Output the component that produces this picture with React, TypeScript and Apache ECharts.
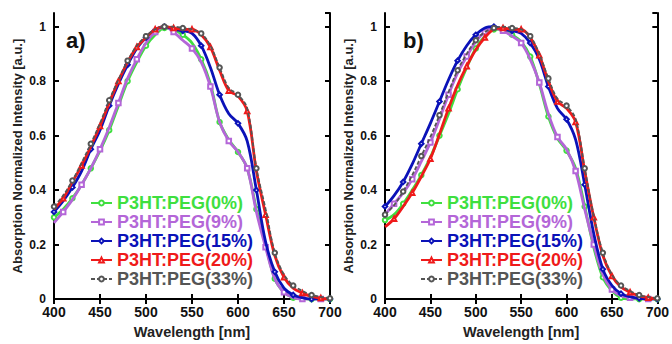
import React, { useEffect, useRef } from "react";
import * as echarts from "echarts";

const wavelengths = [400,410,420,430,440,450,460,470,480,490,500,510,520,530,540,550,560,570,580,590,600,610,620,630,640,650,660,670,680,690,700];

const seriesNames = ["P3HT:PEG(0%)", "P3HT:PEG(9%)", "P3HT:PEG(15%)", "P3HT:PEG(20%)", "P3HT:PEG(33%)"];
const seriesColors = ["#3fdf3f", "#b466d8", "#0b12b8", "#ef1a1a", "#555555"];
const seriesSymbols = ["emptyCircle", "emptyRect", "emptyDiamond", "emptyTriangle", "emptyCircle"];

// Panel a)
const a0 = [0.30,0.33,0.37,0.42,0.48,0.545,0.62,0.71,0.80,0.87,0.93,0.97,0.995,0.99,0.97,0.94,0.88,0.79,0.65,0.585,0.54,0.48,0.33,0.2,0.075,0.025,0.005,0,0,0,0];
const a9 = [0.28,0.32,0.365,0.42,0.48,0.55,0.63,0.72,0.81,0.88,0.94,0.98,1.0,0.98,0.95,0.92,0.87,0.78,0.65,0.58,0.54,0.48,0.32,0.19,0.075,0.025,0.005,0,0,0,0];
const a15 = [0.32,0.36,0.41,0.47,0.55,0.62,0.71,0.79,0.86,0.92,0.96,0.99,1.0,0.99,0.985,0.975,0.93,0.85,0.75,0.68,0.645,0.58,0.40,0.21,0.1,0.04,0.015,0.005,0,0,0];
const a20 = [0.33,0.37,0.43,0.49,0.56,0.635,0.72,0.80,0.87,0.925,0.96,0.99,1.0,0.995,0.99,0.99,0.97,0.925,0.84,0.765,0.745,0.69,0.47,0.31,0.16,0.08,0.04,0.022,0.01,0.004,0];
const a33 = [0.34,0.38,0.435,0.5,0.57,0.645,0.73,0.805,0.875,0.93,0.965,0.99,1.0,1.0,0.995,0.99,0.975,0.93,0.85,0.775,0.75,0.7,0.48,0.33,0.17,0.09,0.05,0.03,0.015,0.008,0.003];

// Panel b)
const b0 = [0.29,0.31,0.35,0.40,0.455,0.52,0.60,0.68,0.77,0.85,0.92,0.965,0.99,0.99,0.97,0.945,0.89,0.79,0.67,0.59,0.545,0.48,0.34,0.19,0.08,0.03,0.005,0,0,0,0];
const b9 = [0.31,0.35,0.39,0.44,0.505,0.575,0.66,0.75,0.83,0.89,0.945,0.98,0.995,0.985,0.965,0.94,0.88,0.795,0.68,0.595,0.55,0.47,0.33,0.2,0.09,0.035,0.012,0.005,0.002,0,0];
const b15 = [0.34,0.38,0.43,0.495,0.57,0.645,0.725,0.805,0.875,0.93,0.97,0.995,1.0,0.99,0.985,0.975,0.94,0.88,0.78,0.70,0.66,0.585,0.42,0.24,0.11,0.05,0.02,0.008,0.003,0,0];
const b20 = [0.265,0.295,0.34,0.39,0.45,0.515,0.605,0.70,0.785,0.855,0.915,0.96,0.99,0.995,0.99,0.99,0.96,0.895,0.80,0.725,0.70,0.65,0.47,0.3,0.16,0.085,0.045,0.025,0.012,0.005,0];
const b33 = [0.31,0.345,0.395,0.455,0.525,0.595,0.675,0.76,0.84,0.90,0.95,0.98,0.995,1.0,0.995,0.99,0.965,0.90,0.81,0.735,0.71,0.66,0.48,0.305,0.17,0.09,0.05,0.03,0.015,0.008,0.003];

const panelA = [a0, a9, a15, a20, a33];
const panelB = [b0, b9, b15, b20, b33];

const FONT = "'Liberation Sans', Arial, sans-serif";

function buildData(vals: number[], offset: number) {
  return vals.map((v, i) =>
    i % 2 === offset ? [wavelengths[i], v] : { value: [wavelengths[i], v], symbol: "none" }
  );
}

export default function App() {
  const ref = useRef<HTMLDivElement>(null);
  useEffect(() => {
    if (!ref.current) return;
    const chart = echarts.init(ref.current, undefined, { renderer: "svg" });
    const grids = [
      { left: 54, top: 13, width: 276, height: 292 },
      { left: 385, top: 13, width: 277, height: 292 },
    ];
    const xAxes: any[] = [];
    const yAxes: any[] = [];
    grids.forEach((_, g) => {
      xAxes.push({
        type: "value", gridIndex: g, min: 400, max: 700, interval: 50, position: "bottom",
        name: "Wavelength [nm]", nameLocation: "middle", nameGap: 24,
        nameTextStyle: { fontFamily: FONT, fontWeight: "bold", fontSize: 14.5, color: "#222" },
        axisLine: { show: true, lineStyle: { color: "#000", width: 2 } },
        axisTick: { show: true, inside: true, length: 5, lineStyle: { color: "#000", width: 2 } },
        axisLabel: { fontFamily: FONT, fontWeight: "bold", fontSize: 14, lineHeight: 14, color: "#111", margin: 6 },
        splitLine: { show: false },
      });
      xAxes.push({
        type: "value", gridIndex: g, min: 400, max: 700, interval: 50, position: "top",
        axisLine: { show: true, lineStyle: { color: "#000", width: 2 } },
        axisTick: { show: true, inside: true, length: 5, lineStyle: { color: "#000", width: 2 } },
        axisLabel: { show: false }, splitLine: { show: false },
      });
      yAxes.push({
        type: "value", gridIndex: g, min: 0, max: 1.05, interval: 0.2, position: "left",
        name: "Absorption Normalized Intensity [a.u.]", nameLocation: "middle", nameGap: 30,
        nameTextStyle: { fontFamily: FONT, fontWeight: "bold", fontSize: 13, color: "#222" },
        axisLine: { show: true, lineStyle: { color: "#000", width: 2 } },
        axisTick: { show: true, inside: true, length: 5, lineStyle: { color: "#000", width: 2 } },
        axisLabel: {
          fontFamily: FONT, fontWeight: "bold", fontSize: 12, lineHeight: 11, color: "#111", margin: 8,
          showMaxLabel: false,
          formatter: (v: number) => (Math.abs(v - 1) < 1e-9 ? "1" : v === 0 ? "0" : v.toFixed(1)),
        },
        splitLine: { show: false },
      });
      yAxes.push({
        type: "value", gridIndex: g, min: 0, max: 1.05, interval: 0.2, position: "right",
        axisLine: { show: true, lineStyle: { color: "#000", width: 2 } },
        axisTick: { show: true, inside: true, length: 5, lineStyle: { color: "#000", width: 2 } },
        axisLabel: { show: false }, splitLine: { show: false },
      });
    });

    const series: any[] = [];
    [panelA, panelB].forEach((panel, g) => {
      panel.forEach((vals, i) => {
        series.push({
          type: "line",
          name: seriesNames[i],
          xAxisIndex: g * 2,
          yAxisIndex: g * 2,
          data: buildData(vals, i % 2),
          smooth: 0.35,
          symbol: seriesSymbols[i],
          symbolSize: 4.5,
          showAllSymbol: true,
          z: 2 + i,
          lineStyle: {
            color: seriesColors[i],
            width: i === 4 ? 1.8 : 2.8,
            type: i === 4 ? [4, 2] : "solid",
          },
          itemStyle: { color: seriesColors[i], borderWidth: 1 },
        });
      });
    });

    const legendBase = (left: number) => ({
      left, top: 189, orient: "vertical", itemGap: 1, itemWidth: 21, itemHeight: 6,
      textStyle: { fontFamily: FONT, fontWeight: "bold", fontSize: 18, lineHeight: 18 },
      data: seriesNames.map((n, i) => ({ name: n, textStyle: { color: seriesColors[i] } })),
      selectedMode: false,
    });

    chart.setOption({
      animation: false,
      backgroundColor: "#fff",
      grid: grids,
      xAxis: xAxes,
      yAxis: yAxes,
      series,
      legend: [legendBase(85), legendBase(415)],
      graphic: [
        { type: "text", left: 66, top: 29, style: { text: "a)", font: `bold 22px ${FONT}`, fill: "#111" } },
        { type: "text", left: 403, top: 29, style: { text: "b)", font: `bold 22px ${FONT}`, fill: "#111" } },
      ],
    });
    return () => chart.dispose();
  }, []);
  return <div ref={ref} style={{ position: "fixed", left: 0, top: 0, width: 672, height: 344 }} />;
}
